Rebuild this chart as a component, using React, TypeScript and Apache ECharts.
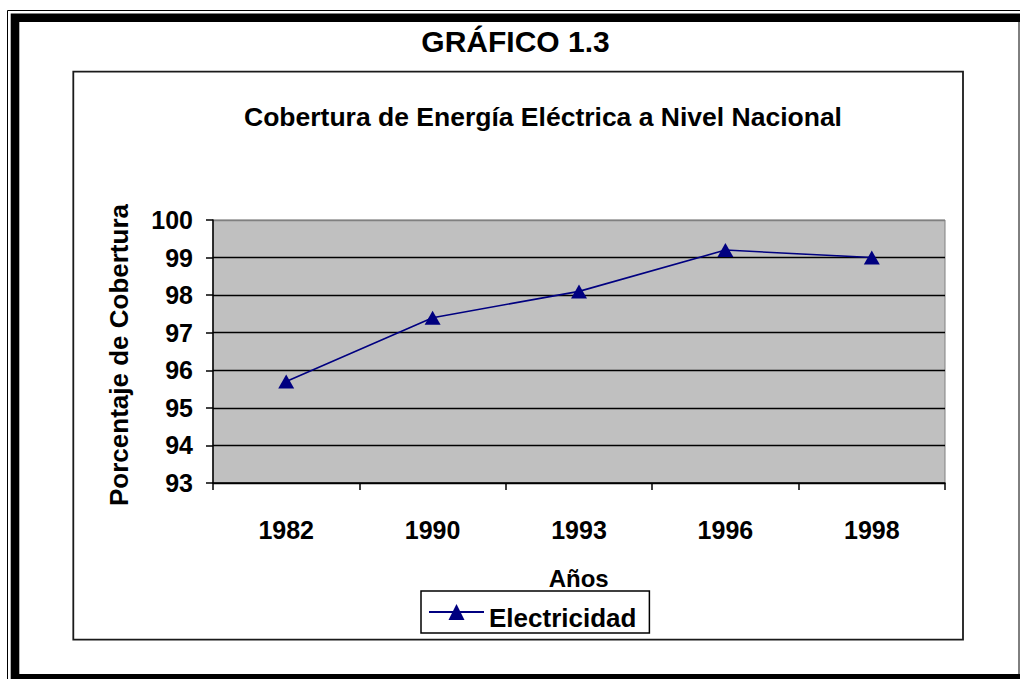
import React, { useEffect, useRef } from "react";
import * as echarts from "echarts";

const years = ["1982", "1990", "1993", "1996", "1998"];
const coverage = [95.7, 97.4, 98.1, 99.2, 99.0];
const yMin = 93;
const yMax = 100;
const yStep = 1;
const seriesName = "Electricidad";
const mainTitle = "GRÁFICO 1.3";
const subTitle = "Cobertura de Energía Eléctrica a Nivel Nacional";
const yName = "Porcentaje de Cobertura";
const xName = "Años";

export default function App() {
  const ref = useRef<HTMLDivElement>(null);
  useEffect(() => {
    if (!ref.current) return;
    const chart = echarts.init(ref.current, null, { renderer: "svg" });
    const font = "'Liberation Sans', Arial, Helvetica, sans-serif";
    const nLines = Math.round((yMax - yMin) / yStep) + 1;
    const splitColors = Array.from({ length: nLines }, (_, i) =>
      i === nLines - 1 ? "#808080" : "#000000"
    );
    const txt = (text: string, x: number, y: number, size: number, rotation = 0) => ({
      type: "text",
      x,
      y,
      rotation,
      z: 100,
      style: {
        text,
        fontSize: size,
        fontWeight: "bold",
        fontFamily: font,
        fill: "#000",
        align: "center",
        verticalAlign: "middle",
      },
    });
    chart.setOption({
      animation: false,
      backgroundColor: "#ffffff",
      textStyle: { fontFamily: font },
      grid: {
        left: 213,
        top: 220,
        right: 75,
        bottom: 196,
        show: true,
        backgroundColor: "#C0C0C0",
        borderColor: "#808080",
        borderWidth: 1,
      },
      xAxis: {
        type: "category",
        data: years,
        boundaryGap: true,
        axisLine: { show: true, lineStyle: { color: "#000", width: 1.5 } },
        axisTick: { show: true, length: 7, lineStyle: { color: "#000", width: 1.5 } },
        axisLabel: {
          color: "#000",
          fontSize: 25,
          fontWeight: "bold",
          fontFamily: font,
          margin: 34,
        },
        splitLine: { show: false },
      },
      yAxis: {
        type: "value",
        min: yMin,
        max: yMax,
        interval: yStep,
        axisLine: { show: true, lineStyle: { color: "#000", width: 1.5 } },
        axisTick: { show: true, length: 7, lineStyle: { color: "#000", width: 1.5 } },
        axisLabel: {
          color: "#000",
          fontSize: 25,
          fontWeight: "bold",
          fontFamily: font,
          margin: 20,
        },
        splitLine: { show: true, lineStyle: { color: splitColors, width: 1.4 } },
      },
      legend: {
        data: [seriesName],
        left: 421,
        top: 591,
        itemWidth: 55,
        itemHeight: 20,
        padding: [2, 13, 2, 7],
        borderColor: "#000",
        borderWidth: 1.5,
        backgroundColor: "#fff",
        formatter: "{t|{name}}",
        textStyle: {
          color: "#000",
          fontFamily: font,
          rich: {
            t: {
              fontSize: 26,
              fontWeight: "bold",
              color: "#000",
              fontFamily: font,
              lineHeight: 26,
              padding: [12, 0, 0, 0],
            },
          },
        },
      },
      series: [
        {
          type: "line",
          name: seriesName,
          data: coverage,
          symbol: "triangle",
          symbolSize: [16, 14],
          lineStyle: { color: "#000080", width: 1.6 },
          itemStyle: { color: "#000080" },
          z: 5,
        },
      ],
      graphic: [
        {
          type: "rect",
          z: 50,
          shape: { x: 7.5, y: 10.5, width: 1100, height: 1100 },
          style: { fill: "none", stroke: "#000", lineWidth: 1 },
        },
        {
          type: "rect",
          z: 50,
          shape: { x: 15, y: 17.7, width: 1100, height: 660.6 },
          style: { fill: "none", stroke: "#000", lineWidth: 8.6 },
        },
        {
          type: "line",
          z: 50,
          shape: { x1: 1019, y1: 22, x2: 1019, y2: 674 },
          style: { stroke: "#000", lineWidth: 1 },
        },
        {
          type: "rect",
          z: 50,
          shape: { x: 73.3, y: 71.7, width: 889.7, height: 568 },
          style: { fill: "none", stroke: "#1a1a1a", lineWidth: 1.8 },
        },
        txt(mainTitle, 515.5, 41, 30),
        txt(subTitle, 543, 116.5, 26.5),
        txt(yName, 118.5, 355, 26, Math.PI / 2),
        txt(xName, 578.7, 578.5, 24),
      ],
    });
    return () => chart.dispose();
  }, []);
  return (
    <div
      ref={ref}
      style={{ position: "fixed", left: 0, top: 0, width: 1020, height: 679 }}
    />
  );
}
